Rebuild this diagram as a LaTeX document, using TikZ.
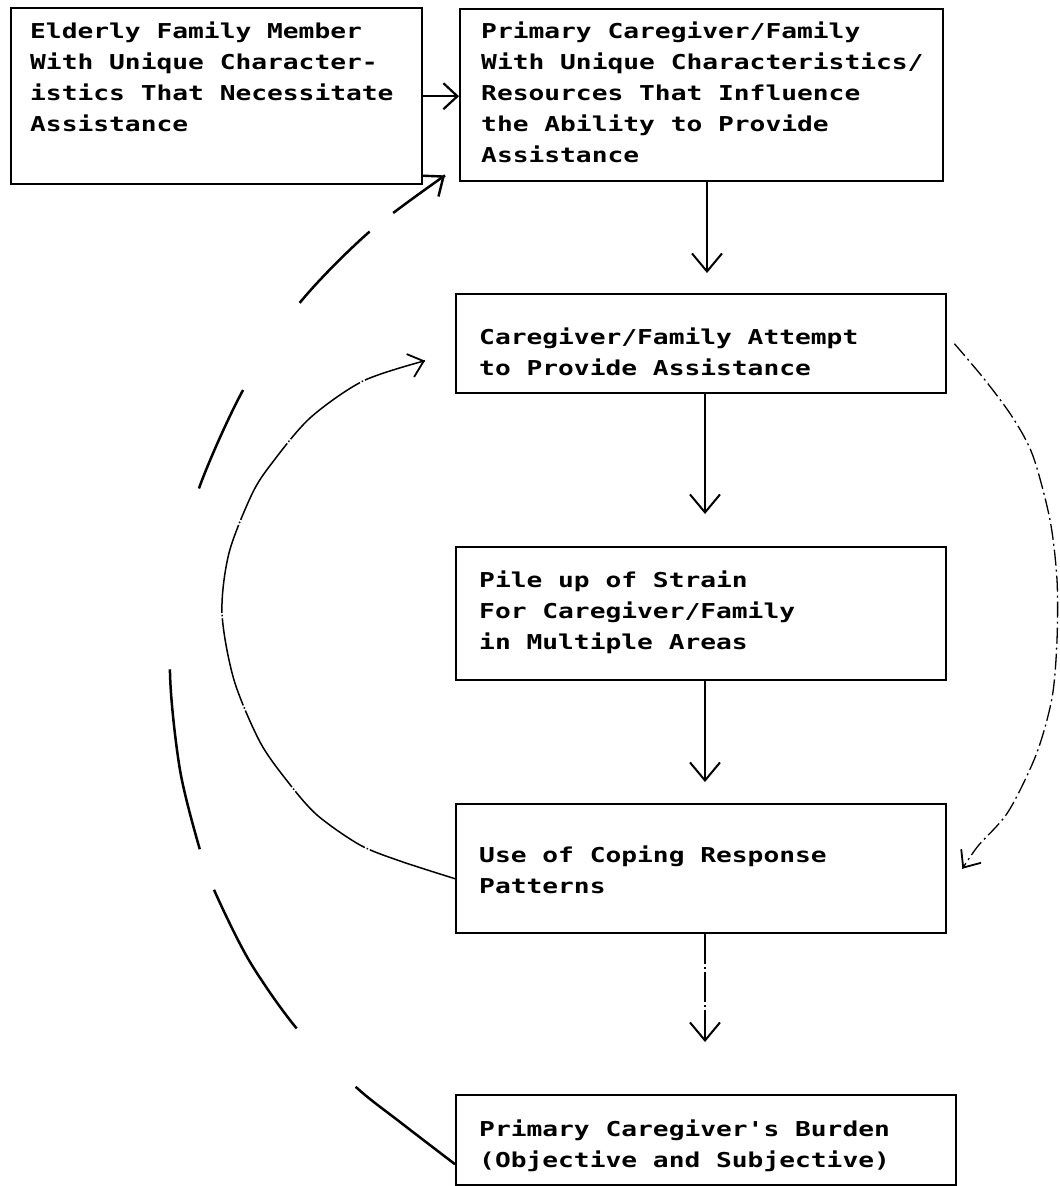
\documentclass[tikz,border=0pt]{standalone}
\usepackage{fontspec}
\newfontfamily\diagfont[FakeStretch=1.28]{DejaVu Sans Mono}
\usetikzlibrary{arrows.meta,calc}
\newcommand{\boxtxt}[5]{\parbox[c][#2][t]{#1}{\diagfont\bfseries\fontsize{20.5}{31}\selectfont\raggedright\leftskip=#3\relax\vspace*{#4}\rule{0pt}{17pt}#5\par}}
\begin{document}
\begin{tikzpicture}[x=1pt,y=-1pt,
  boxst/.style={draw, line width=2.4pt, inner sep=0pt, anchor=north west},
  arr/.style={line width=2pt, -{Straight Barb[length=18pt,width=30pt]}},
  arrsmall/.style={line width=2.2pt, -{Straight Barb[length=14pt,width=26pt]}},
  tipbig/.style={line width=2.4pt, -{Straight Barb[length=16pt,width=26pt]}},
  tipthin/.style={line width=1.8pt, -{Straight Barb[length=14pt,width=24pt]}},
  thinbroken/.style={line width=1.2pt, dash pattern=on 30pt off 3pt on 2pt off 3pt},
  bigarc/.style={line width=2.5pt, dash pattern=on 126pt off 83pt on 162pt off 43pt on 183pt off 184pt on 108pt off 104pt on 100pt off 30pt on 300pt},
  midarc/.style={line width=1.5pt, dash pattern=on 90pt off 2pt on 1.5pt off 2pt},
  rightarc/.style={line width=1.3pt, dash pattern=on 16pt off 4pt on 2pt off 4pt}]
\useasboundingbox (0,0) rectangle (1060,1186);
\fill[white] (0,0) rectangle (1060,1186);

\node[boxst] (b1) at (10,7) {\boxtxt{411pt}{176pt}{19pt}{13pt}{Elderly Family Member\\With Unique Character-\\istics That Necessitate\\Assistance}};
\node[boxst] (b2) at (459,8) {\boxtxt{483pt}{172pt}{21pt}{12pt}{Primary Caregiver/Family\\With Unique Characteristics/\\Resources That Influence\\the Ability to Provide\\Assistance}};
\node[boxst] (b3) at (455,293) {\boxtxt{490pt}{99pt}{23pt}{33pt}{Caregiver/Family Attempt\\to Provide Assistance}};
\node[boxst] (b4) at (455,546) {\boxtxt{490pt}{133pt}{23pt}{23pt}{Pile up of Strain\\For Caregiver/Family\\in Multiple Areas}};
\node[boxst] (b5) at (455,803) {\boxtxt{490pt}{129pt}{23pt}{41pt}{Use of Coping Response\\Patterns}};
\node[boxst] (b6) at (455,1094) {\boxtxt{500pt}{90pt}{23pt}{24pt}{Primary Caregiver's Burden\\(Objective and Subjective)}};

\coordinate (ax) at (705,0);
\coordinate (ax2) at (707,0);

\draw[arrsmall] (b1.east) -- (b1.east -| b2.west);
\draw[arr, shorten >=20pt] (b2.south -| ax2) -- (b3.north -| ax2);
\draw[arr, shorten >=32pt] (b3.south -| ax) -- (b4.north -| ax);
\draw[arr, shorten >=21pt] (b4.south -| ax) -- (b5.north -| ax);
\coordinate (t5) at ($(b6.north -| ax)+(0,-52)$);
\draw[thinbroken] (b5.south -| ax) -- (t5);
\draw[arr] ($(t5)!2pt!(b5.south -| ax)$) -- (t5);

\coordinate (s1) at ([yshift=-24pt]b6.west);
\coordinate (e1) at ([xshift=-14pt,yshift=7pt]b2.south west);
\draw[bigarc] plot[smooth] coordinates {(s1) (400,1122) (357,1088) (298,1030) (250,962) (215,892) (200,850) (180,770) (170,673) (176,580) (198,491) (242,392) (298,305) (368,233) (e1)};
\draw[tipbig] ($(e1)!3pt!(368,233)$) -- (e1);

\coordinate (s2) at ([yshift=-10pt]b5.west);
\coordinate (e2) at ([xshift=-30pt,yshift=-17pt]b3.west);
\draw[midarc] plot[smooth] coordinates {(s2) (400,861) (360,845) (317,815) (288,782) (260,742) (234,680) (222,613) (229,553) (252,494) (272,463) (310,418) (363,381) (e2)};
\draw[tipthin] ($(e2)!3pt!(363,381)$) -- (e2);

\coordinate (s3) at ([xshift=7pt]b3.east);
\coordinate (e3) at ([xshift=15pt]b5.east);
\draw[rightarc] plot[smooth] coordinates {(s3) (985,380) (1013,418) (1033,456) (1050,520) (1057,580) (1057,640) (1052,698) (1036,755) (1008,812) (978,846) (e3)};
\draw[tipthin] ($(e3)!3pt!(978,846)$) -- (e3);
\end{tikzpicture}
\end{document}
